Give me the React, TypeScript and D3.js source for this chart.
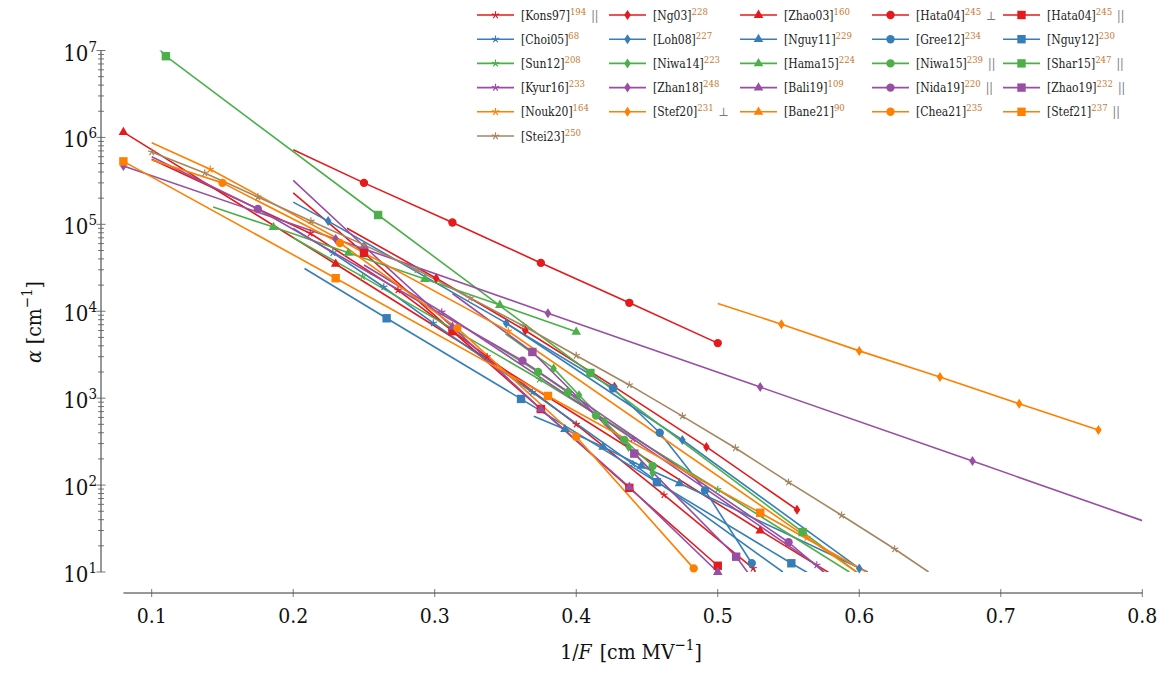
import React from "react";
import * as d3 from "d3";

type P = [number, number, number];

// ---- data: [1/F (cm/MV), alpha (1/cm), marker shown] ----
const kons97: P[] = [[0.1,5.6e5,0],[0.212,7.9e4,1],[0.274,1.75e4,1],[0.337,3e3,1],[0.4,500,1],[0.462,77,1],[0.525,11,1]];
const ng03: P[] = [[0.238,9e4,0],[0.301,2.4e4,1],[0.364,6e3,1],[0.427,1.35e3,1],[0.492,275,1],[0.556,52,1]];
const zhao03: P[] = [[0.08,1.15e6,1],[0.23,3.5e4,1],[0.38,1.03e3,1],[0.53,30,1],[0.58,9.5,0]];
const hata04perp: P[] = [[0.2,7.2e5,0],[0.25,3.0e5,1],[0.3125,1.05e5,1],[0.375,3.6e4,1],[0.4375,1.25e4,1],[0.5,4.3e3,1]];
const hata04par: P[] = [[0.2,2.3e5,0],[0.25,4.7e4,1],[0.3125,5.9e3,1],[0.375,750,1],[0.4375,93,1],[0.5,11.8,1]];
const choi05: P[] = [[0.2,9e4,0],[0.228,4.7e4,1],[0.264,1.9e4,1],[0.299,7.3e3,1],[0.369,1.17e3,1],[0.44,175,1],[0.546,10,0]];
const loh08: P[] = [[0.2,1.8e5,0],[0.2247,1.09e5,1],[0.3505,7.3e3,1],[0.475,330,1],[0.6,11,1]];
const nguy11: P[] = [[0.37,620,0],[0.392,440,1],[0.419,275,1],[0.446,166,1],[0.473,105,1],[0.606,10,0]];
const gree12: P[] = [[0.35,7.3e3,0],[0.426,1.3e3,1],[0.459,400,1],[0.491,87,1],[0.524,12.6,1],[0.527,9.5,0]];
const nguy12: P[] = [[0.208,3.1e4,0],[0.266,8.3e3,1],[0.361,980,1],[0.457,108,1],[0.552,12.6,1],[0.565,9.5,0]];
const sun12: P[] = [[0.2,7e4,0],[0.249,2.5e4,1],[0.374,1.65e3,1],[0.5,89,1],[0.593,10,0]];
const niwa14: P[] = [[0.35,5.5e3,0],[0.384,2.2e3,1],[0.402,1.08e3,1],[0.42,545,1],[0.437,275,1],[0.454,138,1]];
const hama15: P[] = [[0.1434,1.58e5,0],[0.186,9.3e4,1],[0.239,4.7e4,1],[0.293,2.35e4,1],[0.346,1.18e4,1],[0.4,5.8e3,1]];
const niwa15: P[] = [[0.34,4.3e3,0],[0.373,2e3,1],[0.394,1.17e3,1],[0.414,630,1],[0.434,330,1],[0.454,166,1]];
const shar15: P[] = [[0.104,1.1e7,0],[0.11,8.6e6,1],[0.26,1.28e5,1],[0.41,1.95e3,1],[0.56,28.8,1],[0.6,9.5,0]];
const kyur16: P[] = [[0.25,3.4e4,0],[0.305,9.8e3,1],[0.44,340,1],[0.57,12,1],[0.575,10,0]];
const zhan18: P[] = [[0.08,4.7e5,1],[0.23,6.8e4,1],[0.38,9.5e3,1],[0.53,1.34e3,1],[0.68,189,1],[0.8,39,0]];
const bali19: P[] = [[0.2,3.2e5,0],[0.25,5.6e4,1],[0.3125,6.6e3,1],[0.375,750,1],[0.4375,95,1],[0.5,10,1]];
const nida19: P[] = [[0.1,6e5,0],[0.175,1.5e5,1],[0.362,2.7e3,1],[0.55,22,1],[0.58,8.5,0]];
const zhao19: P[] = [[0.3125,1.6e4,0],[0.369,3.4e3,1],[0.441,230,1],[0.513,15,1],[0.522,9.5,0]];
const nouk20: P[] = [[0.1,8.7e5,0],[0.1413,4.3e5,1],[0.352,5.9e3,1],[0.563,25,1],[0.598,10,0]];
const stef20: P[] = [[0.5,1.23e4,0],[0.545,7.1e3,1],[0.6,3.5e3,1],[0.657,1.75e3,1],[0.713,860,1],[0.769,430,1]];
const bane21: P[] = [];
const chea21: P[] = [[0.1,5.5e5,0],[0.15,3e5,1],[0.233,6.1e4,1],[0.316,6.4e3,1],[0.4,360,1],[0.483,11,1]];
const stef21: P[] = [[0.08,5.3e5,1],[0.23,2.4e4,1],[0.38,1.06e3,1],[0.53,48,1],[0.605,10,0]];
const stei23: P[] = [[0.1,6.8e5,1],[0.1375,3.9e5,1],[0.175,2.06e5,1],[0.2125,1.09e5,1],[0.25,5.8e4,1],[0.2875,3e4,1],[0.325,1.42e4,1],[0.3625,6.8e3,1],[0.4,3.1e3,1],[0.4375,1.42e3,1],[0.475,622,1],[0.5125,267,1],[0.55,108,1],[0.5875,45,1],[0.625,18.4,1],[0.649,10,0]];

const xTicks = [0.1, 0.2, 0.3, 0.4, 0.5, 0.6, 0.7, 0.8];
const yDecades = [1, 2, 3, 4, 5, 6, 7];

const RED = "#e41a1c", BLUE = "#377eb8", GREEN = "#4daf4a", PURPLE = "#984ea3", ORANGE = "#ff7f00", BROWN = "#a6865f";

type M = "star" | "diamond" | "triangle" | "circle" | "square";
const series: { name: string; ref: string; pol: string; color: string; mark: M; data: P[] }[] = [
  { name: "Kons97", ref: "194", pol: "‖", color: RED, mark: "star", data: kons97 },
  { name: "Ng03", ref: "228", pol: "", color: RED, mark: "diamond", data: ng03 },
  { name: "Zhao03", ref: "160", pol: "", color: RED, mark: "triangle", data: zhao03 },
  { name: "Hata04", ref: "245", pol: "⊥", color: RED, mark: "circle", data: hata04perp },
  { name: "Hata04", ref: "245", pol: "‖", color: RED, mark: "square", data: hata04par },
  { name: "Choi05", ref: "68", pol: "", color: BLUE, mark: "star", data: choi05 },
  { name: "Loh08", ref: "227", pol: "", color: BLUE, mark: "diamond", data: loh08 },
  { name: "Nguy11", ref: "229", pol: "", color: BLUE, mark: "triangle", data: nguy11 },
  { name: "Gree12", ref: "234", pol: "", color: BLUE, mark: "circle", data: gree12 },
  { name: "Nguy12", ref: "230", pol: "", color: BLUE, mark: "square", data: nguy12 },
  { name: "Sun12", ref: "208", pol: "", color: GREEN, mark: "star", data: sun12 },
  { name: "Niwa14", ref: "223", pol: "", color: GREEN, mark: "diamond", data: niwa14 },
  { name: "Hama15", ref: "224", pol: "", color: GREEN, mark: "triangle", data: hama15 },
  { name: "Niwa15", ref: "239", pol: "‖", color: GREEN, mark: "circle", data: niwa15 },
  { name: "Shar15", ref: "247", pol: "‖", color: GREEN, mark: "square", data: shar15 },
  { name: "Kyur16", ref: "233", pol: "", color: PURPLE, mark: "star", data: kyur16 },
  { name: "Zhan18", ref: "248", pol: "", color: PURPLE, mark: "diamond", data: zhan18 },
  { name: "Bali19", ref: "109", pol: "", color: PURPLE, mark: "triangle", data: bali19 },
  { name: "Nida19", ref: "220", pol: "‖", color: PURPLE, mark: "circle", data: nida19 },
  { name: "Zhao19", ref: "232", pol: "‖", color: PURPLE, mark: "square", data: zhao19 },
  { name: "Nouk20", ref: "164", pol: "", color: ORANGE, mark: "star", data: nouk20 },
  { name: "Stef20", ref: "231", pol: "⊥", color: ORANGE, mark: "diamond", data: stef20 },
  { name: "Bane21", ref: "90", pol: "", color: ORANGE, mark: "triangle", data: bane21 },
  { name: "Chea21", ref: "235", pol: "", color: ORANGE, mark: "circle", data: chea21 },
  { name: "Stef21", ref: "237", pol: "‖", color: ORANGE, mark: "square", data: stef21 },
  { name: "Stei23", ref: "250", pol: "", color: BROWN, mark: "star", data: stei23 },
];

const W = 1172, H = 678;
const FONT = '"DejaVu Serif Condensed", "DejaVu Serif", serif';

function Marker({ type, color, cx, cy }: { type: M; color: string; cx: number; cy: number }) {
  const t = `translate(${cx},${cy})`;
  switch (type) {
    case "circle":
      return <circle transform={t} r={4.2} fill={color} />;
    case "square":
      return <rect transform={t} x={-4.2} y={-4.2} width={8.4} height={8.4} fill={color} />;
    case "triangle":
      return <path transform={t} d="M0,-5.4L4.8,2.9L-4.8,2.9Z" fill={color} />;
    case "diamond":
      return <path transform={t} d="M0,-5L3.3,0L0,5L-3.3,0Z" fill={color} />;
    case "star": {
      const spokes = d3.range(5).map((k) => {
        const a = ((-90 + 72 * k) * Math.PI) / 180;
        return `M0,0L${(3.8 * Math.cos(a)).toFixed(2)},${(3.8 * Math.sin(a)).toFixed(2)}`;
      });
      return <path transform={t} d={spokes.join("")} stroke={color} strokeWidth={1.2} fill="none" />;
    }
  }
}

export default function App() {
  const x = d3.scaleLinear().domain([0.08, 0.8]).range([123.4, 1142.3]);
  const y = d3.scaleLog().domain([10, 1e7]).range([572, 50.5]);
  const line = d3
    .line<P>()
    .x((d) => x(d[0]))
    .y((d) => y(d[1]));

  const xAxisY = 593;
  const yAxisX = 101;

  const minorTicks: number[] = [];
  for (let e = 1; e < 7; e++) for (let m = 2; m <= 9; m++) minorTicks.push(m * Math.pow(10, e));

  const legCols = [477, 609, 740, 872, 1003];
  const legRow0 = 15, legRowH = 24.2;
  const txt = { fontFamily: FONT, fontStretch: "condensed" as const };

  return (
    <svg
      width={W}
      height={H}
      style={{ position: "absolute", left: 0, top: 0, background: "#fff", fontFamily: FONT }}
    >
      <defs>
        <clipPath id="plotclip">
          <rect x={x(0.08)} y={y(1e7)} width={x(0.8) - x(0.08)} height={y(10) - y(1e7)} />
        </clipPath>
      </defs>

      <g clipPath="url(#plotclip)" fill="none" strokeWidth={1.6} strokeLinejoin="round">
        {series.map((s, i) =>
          s.data.length > 1 ? <path key={i} d={line(s.data) || ""} stroke={s.color} /> : null
        )}
      </g>
      <g>
        {series.map((s, i) =>
          s.data
            .filter((d) => d[2] === 1)
            .map((d, j) => <Marker key={`${i}-${j}`} type={s.mark} color={s.color} cx={x(d[0])} cy={y(d[1])} />)
        )}
      </g>

      <g>
        <line x1={x(0.08)} x2={x(0.8)} y1={xAxisY} y2={xAxisY} stroke="#333" strokeWidth={1} />
        {xTicks.map((t) => (
          <g key={t}>
            <line x1={x(t)} x2={x(t)} y1={xAxisY - 4} y2={xAxisY + 4} stroke="#555" strokeWidth={0.8} />
            <text x={x(t)} y={623} textAnchor="middle" fontSize={21} fill="#111" style={txt}>
              {t.toFixed(1)}
            </text>
          </g>
        ))}
        <text x={631} y={659} textAnchor="middle" fontSize={21} fill="#111" style={txt}>
          1/<tspan fontStyle="italic">F</tspan>
          <tspan dx={8}>[cm MV</tspan>
          <tspan dy={-9} fontSize={15}>−1</tspan>
          <tspan dy={9}>]</tspan>
        </text>
      </g>

      <g>
        <line x1={yAxisX} x2={yAxisX} y1={y(1e7)} y2={y(10)} stroke="#333" strokeWidth={1} />
        {minorTicks.map((t) => (
          <line key={t} x1={yAxisX - 3} x2={yAxisX + 3} y1={y(t)} y2={y(t)} stroke="#555" strokeWidth={0.8} />
        ))}
        {yDecades.map((e) => (
          <g key={e}>
            <line x1={yAxisX - 4.5} x2={yAxisX + 4.5} y1={y(Math.pow(10, e))} y2={y(Math.pow(10, e))} stroke="#555" strokeWidth={0.8} />
            <text x={97} y={y(Math.pow(10, e)) + 10} textAnchor="end" fontSize={22} fill="#111" style={txt}>
              10<tspan dy={-9} fontSize={15}>{e}</tspan>
            </text>
          </g>
        ))}
        <text transform="translate(41,322) rotate(-90)" textAnchor="middle" fontSize={21} fill="#111" style={txt}>
          <tspan fontStyle="italic">α</tspan>
          <tspan dx={6}>[cm</tspan>
          <tspan dy={-9} fontSize={15}>−1</tspan>
          <tspan dy={9}>]</tspan>
        </text>
      </g>

      <g>
        {series.map((s, i) => {
          const col = i % 5;
          const row = Math.floor(i / 5);
          const lx = legCols[col];
          const ly = legRow0 + row * legRowH;
          return (
            <g key={i}>
              <line x1={lx} x2={lx + 37} y1={ly} y2={ly} stroke={s.color} strokeWidth={1.6} />
              <Marker type={s.mark} color={s.color} cx={lx + 18.5} cy={ly} />
              <text x={lx + 44} y={ly + 4.5} fontSize={12} fill="#222" style={txt}>
                [{s.name}]
                <tspan dy={-5} fontSize={9.5} fill="#c77a2e">{s.ref}</tspan>
                {s.pol ? (
                  <tspan dy={5} dx={5} fill="#777" fontSize={12}>
                    {s.pol === "‖" ? "||" : s.pol}
                  </tspan>
                ) : null}
              </text>
            </g>
          );
        })}
      </g>
    </svg>
  );
}
